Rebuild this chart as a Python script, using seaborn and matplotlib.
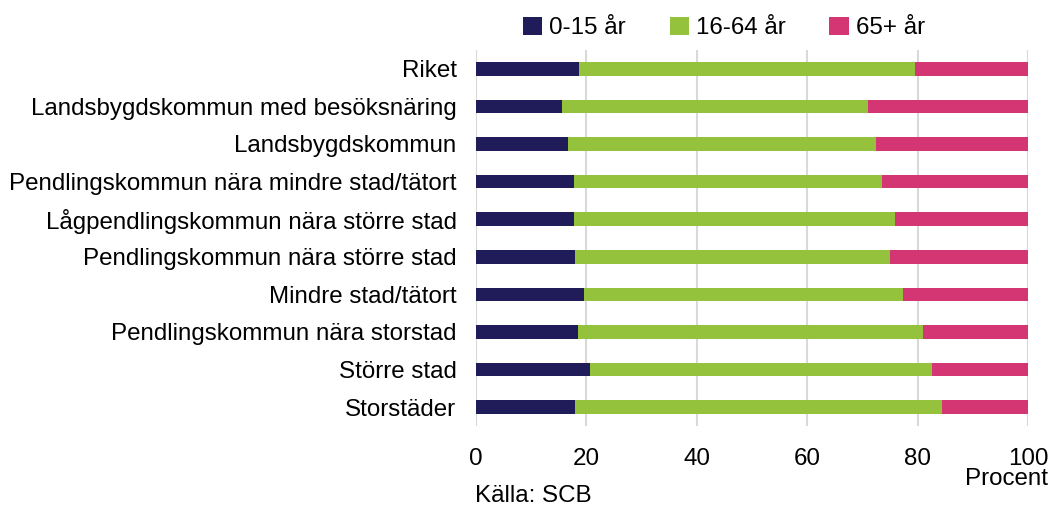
import matplotlib
matplotlib.use("Agg")
import matplotlib.pyplot as plt
import seaborn as sns
import pandas as pd
from matplotlib.patches import Patch

categories = [
    "Riket",
    "Landsbygdskommun med besöksnäring",
    "Landsbygdskommun",
    "Pendlingskommun nära mindre stad/tätort",
    "Lågpendlingskommun nära större stad",
    "Pendlingskommun nära större stad",
    "Mindre stad/tätort",
    "Pendlingskommun nära storstad",
    "Större stad",
    "Storstäder",
]
age_0_15 = [18.6, 15.6, 16.7, 17.7, 17.8, 17.9, 19.5, 18.5, 20.7, 17.9]
age_16_64 = [61.0, 55.5, 55.8, 55.8, 58.1, 57.1, 57.8, 62.5, 61.9, 66.5]
age_65 = [20.4, 28.9, 27.5, 26.5, 24.1, 25.0, 22.7, 19.0, 17.4, 15.6]
series_labels = ["0-15 år", "16-64 år", "65+ år"]
colors = ["#201C5A", "#95C23D", "#D43573"]

df = pd.DataFrame({"cat": categories, "a": age_0_15, "b": age_16_64, "c": age_65})
df["cum_a"] = df["a"]
df["cum_b"] = df["a"] + df["b"]
df["cum_c"] = df["a"] + df["b"] + df["c"]

sns.set_style("white")
plt.rcParams["font.family"] = ["Liberation Sans", "DejaVu Sans"]
plt.rcParams["text.color"] = "black"

fig = plt.figure(figsize=(10.5, 5.07), dpi=100)
ax = fig.add_axes([0.4533, 0.1598, 0.5257, 0.7416])

for col, c in zip(["cum_c", "cum_b", "cum_a"], [colors[2], colors[1], colors[0]]):
    sns.barplot(data=df, y="cat", x=col, orient="h", color=c, width=0.36,
                saturation=1, ax=ax, zorder=3, linewidth=0)

ax.set_xlim(0, 100)
ax.set_ylim(9.5, -0.5)
ax.set_xticks([0, 20, 40, 60, 80, 100])
ax.grid(axis="x", color="#d9d9d9", linewidth=1.5, zorder=0)
ax.grid(axis="y", visible=False)
for s in ax.spines.values():
    s.set_visible(False)
ax.set_xlabel("")
ax.set_ylabel("")
ax.tick_params(axis="both", length=0, labelsize=17.4, colors="#000000")
ax.tick_params(axis="y", pad=14)
ax.tick_params(axis="x", pad=16)

handles = [Patch(facecolor=c, edgecolor="none") for c in colors]
fig.legend(handles, series_labels, loc="center", bbox_to_anchor=(724 / 1050, 1 - 28 / 507),
           ncol=3, frameon=False, fontsize=17.4, handlelength=0.8, handleheight=0.8,
           handletextpad=0.3, columnspacing=1.8)

fig.text(1048 / 1050, 1 - 479 / 507, "Procent", ha="right", va="center", fontsize=17.4)
fig.text(475 / 1050, 1 - 496 / 507, "Källa: SCB", ha="left", va="center", fontsize=17.4)

fig.savefig("out.png", dpi=100)
